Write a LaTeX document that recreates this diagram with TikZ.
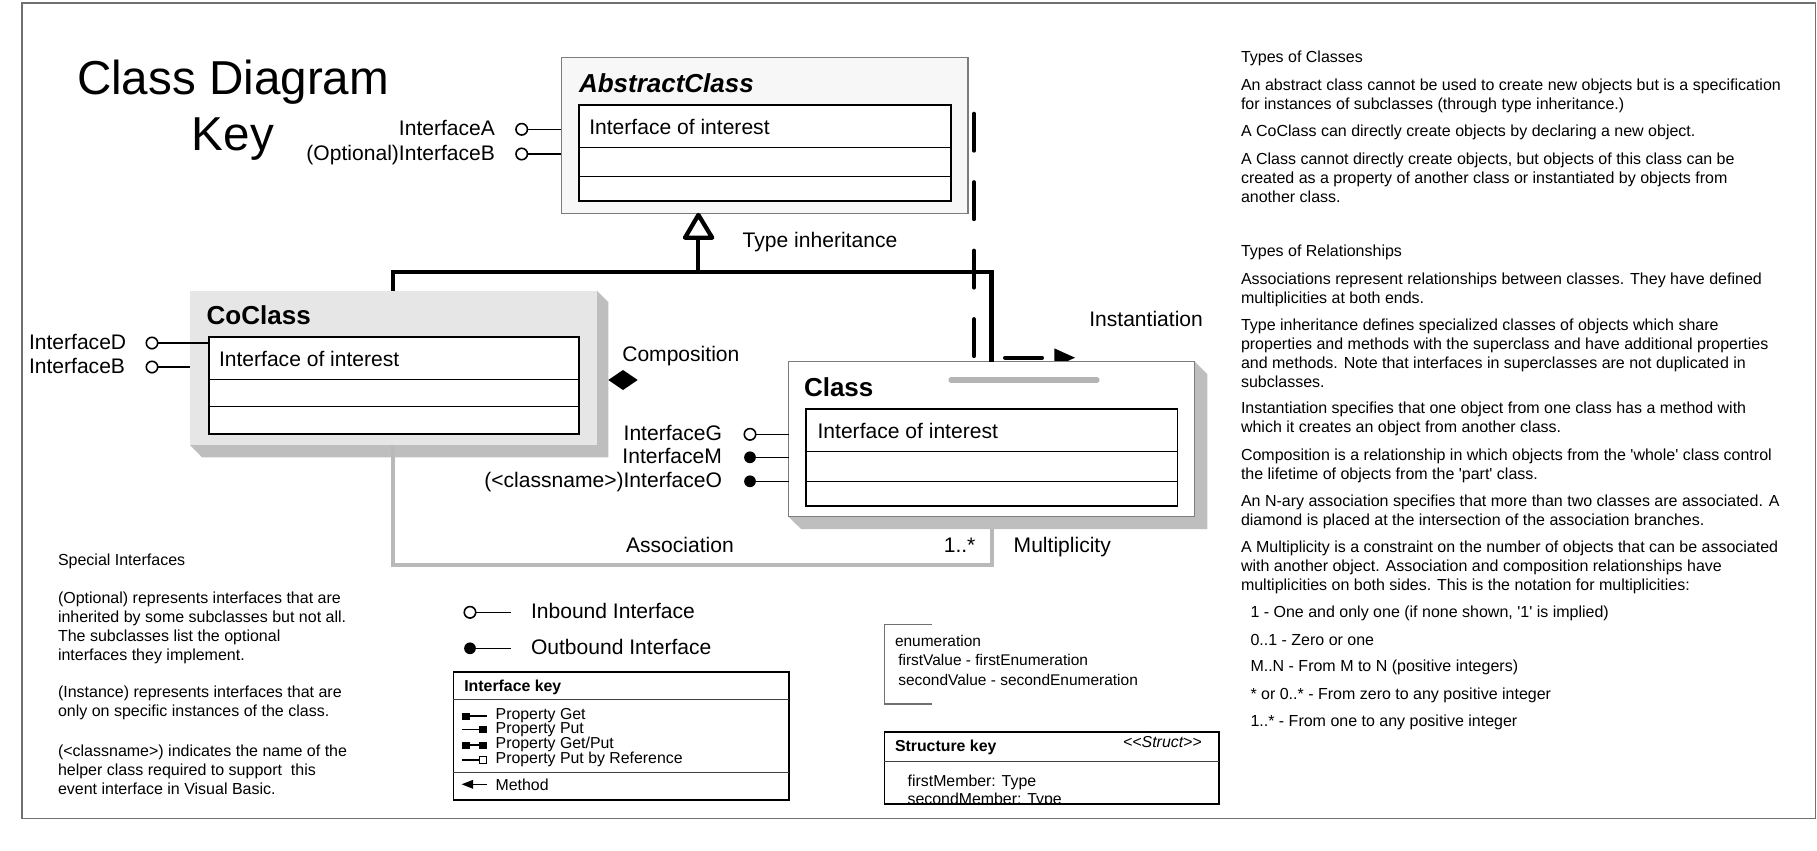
\documentclass[tikz,border=0pt]{standalone}
\usepackage{fontspec}
\setmainfont{Liberation Sans}
\usetikzlibrary{fit,arrows.meta}

\definecolor{framegray}{HTML}{707070}
\definecolor{absfill}{HTML}{F7F7F7}
\definecolor{cofill}{HTML}{E6E6E6}
\definecolor{shadegray}{HTML}{BEBEBE}
\definecolor{edgegray}{HTML}{7C7C7C}
\definecolor{assocgray}{HTML}{B9B9B9}
\definecolor{bargray}{HTML}{B4B4B4}

\newcommand{\sq}{\textquotesingle}
\newcommand{\lines}[1]{\begin{tabular}[t]{@{}l@{}}#1\end{tabular}}

\begin{document}
\begin{tikzpicture}[x=0.75pt, y=-0.75pt,
  every node/.style={inner sep=0pt, outer sep=0pt},
  note/.style={anchor=base west, font=\fontsize{12}{14.25}\selectfont},
  keytext/.style={anchor=base west, font=\fontsize{11.9}{13}\selectfont},
  enumtext/.style={anchor=base west, font=\fontsize{11.6}{13}\selectfont},
  lbl/.style={font=\fontsize{15.8}{18}\selectfont},
  ctitle/.style={anchor=base west, font=\bfseries\fontsize{19.5}{22}\selectfont},
  facebox/.style={draw=edgegray, line width=0.8pt},
  compbox/.style={draw=black, fill=white, line width=1.3pt},
  rowline/.style={line width=0.75pt},
  inport/.style={circle, draw=black, fill=white, line width=1.2pt, minimum size=8.6pt},
  outport/.style={circle, fill=black, minimum size=8.8pt},
  portline/.style={line width=1.1pt},
  heavy/.style={line width=3.2pt},
  instdash/.style={line width=3pt, line cap=round, dash pattern=on 27.75pt off 23.6pt},
  assocline/.style={draw=assocgray, line width=3pt},
  keybox/.style={draw=black, line width=1.2pt},
  keyrule/.style={draw=black!75, line width=0.75pt},
  keysym/.style={line width=1pt},
]
\useasboundingbox (0,0) rectangle (1817,850);
\fill[white] (0,0) rectangle (1817,850);

% outer frame
\draw[framegray, line width=0.9pt] (22,3) rectangle (1815.5,818.5);

% title
\node[anchor=base west, font=\fontsize{35.7}{40}\selectfont] (title1) at (77,94) {Class Diagram};
\node[anchor=base, font=\fontsize{35.7}{40}\selectfont] (title2) at (233,150) {Key};

% ---------- AbstractClass ----------
\node[facebox, fill=absfill, fit={(561.3,57.7) (968,213.3)}] (abs) {};
\node[ctitle, font=\bfseries\itshape\fontsize{19.5}{22}\selectfont] (absT) at (579,92.3) {AbstractClass};
\node[compbox, fit={(579,105) (950.7,201)}] (absi) {};
\draw[rowline] (579,147.3) -- (950.7,147.3);
\draw[rowline] (579,176.7) -- (950.7,176.7);
\node[lbl, anchor=base west] (absI) at (589.3,134.3) {Interface of interest};

\node[inport] (ifA) at (521.7,129.3) {};
\node[inport] (ifB) at (521.7,154) {};
\draw[portline] (ifA) -- (abs.west |- ifA);
\draw[portline] (ifB) -- (abs.west |- ifB);
\node[lbl, anchor=base east] (lA) at (495,135) {InterfaceA};
\node[lbl, anchor=base east] (lB) at (495,160) {(Optional)InterfaceB};

% ---------- CoClass ----------
\fill[shadegray] (596.7,290.7) -- (608.3,302.3) -- (608.3,457.3) -- (202,457.3) -- (190,445) -- (596.7,445) -- cycle;
\node[fill=cofill, fit={(190,290.7) (596.7,445)}] (coc) {};
\node[ctitle] (cocT) at (206.7,324) {CoClass};
\node[compbox, fit={(209,337.3) (579.3,434)}] (coci) {};
\draw[rowline] (209,379) -- (579.3,379);
\draw[rowline] (209,406) -- (579.3,406);
\node[lbl, anchor=base west] (cocI) at (219,366) {Interface of interest};

\node[inport] (ifD) at (152,343) {};
\node[inport] (ifB2) at (152,367) {};
\draw[portline] (ifD) -- (coci.west |- ifD);
\draw[portline] (ifB2) -- (coc.west |- ifB2);
\node[lbl, anchor=base west] (lD) at (29,349.5) {InterfaceD};
\node[lbl, anchor=base west] (lB2) at (29,373.5) {InterfaceB};

% composition diamond
\fill (608.3,380) -- (623,370) -- (637.7,380) -- (623,390) -- cycle;
\node[lbl, anchor=base west] (compL) at (622.3,361.7) {Composition};

% ---------- instantiation (drawn below the Class box) ----------
\coordinate (instTop) at (974,113.7);
\coordinate (instCorner) at (974,357.7);
\coordinate (instTip) at (1075,357.7);
\draw[instdash] (instTop) -- (instCorner);
% one dash after the corner, then the solid tip
\draw[line width=3pt, line cap=round, dash pattern=on 27.75pt off 200pt, dash phase=204.5pt,
      -{Triangle[length=15.5pt, width=14pt, line width=0pt]}] (instCorner) -- (instTip);
\node[lbl, anchor=base west] (instL) at (1089.3,326) {Instantiation};

% ---------- Class ----------
\fill[shadegray] (1194.7,361.7) -- (1207.3,374.3) -- (1207.3,529) -- (801.1,529) -- (788.5,516.7) -- (1194.7,516.7) -- cycle;
\node[facebox, fill=white, fit={(788.5,361.7) (1194.7,516.7)}] (cls) {};
\draw[bargray, line width=3.8pt, line cap=round] (951,380) -- (1097,380);
\node[ctitle] (clsT) at (804,396.7) {Class};
\node[compbox, fit={(806.2,409) (1177.4,505.7)}] (clsi) {};
\draw[rowline] (806.2,451.7) -- (1177.4,451.7);
\draw[rowline] (806.2,481.7) -- (1177.4,481.7);
\node[lbl, anchor=base west] (clsI) at (817.6,438.3) {Interface of interest};

\node[inport] (ifG) at (750,434.3) {};
\node[outport] (ifM) at (750,457.3) {};
\node[outport] (ifO) at (750,481.3) {};
\draw[portline] (ifG) -- (cls.west |- ifG);
\draw[portline] (ifM) -- (cls.west |- ifM);
\draw[portline] (ifO) -- (cls.west |- ifO);
\node[lbl, anchor=base east] (lG) at (722,440) {InterfaceG};
\node[lbl, anchor=base east] (lM) at (722,463.5) {InterfaceM};
\node[lbl, anchor=base east] (lO) at (722,487) {(<classname>)InterfaceO};

% ---------- type inheritance ----------
\coordinate (inhJoin) at (698.3,272.3);
\draw[heavy] (coc.north) |- (inhJoin) -| (cls.north);
\draw[heavy] (inhJoin) -- (698.3,238);
\filldraw[heavy, fill=white, line join=round] (685,237.7) -- (698.4,214.9) -- (712.2,237.7) -- cycle;
\node[lbl, anchor=base west] (inhL) at (742.7,247.3) {Type inheritance};

% ---------- association ----------
\coordinate (assocLow) at (991.6,565);
\coordinate (clsBase) at (991.6,529);
\draw[assocline] (coc.south) |- (assocLow) -- (clsBase);
\node[lbl, anchor=base west] (assocL) at (626,552.7) {Association};
\node[lbl, anchor=base west] (multN) at (943.8,552.7) {1..*};
\node[lbl, anchor=base west] (multL) at (1013.7,552.7) {Multiplicity};

% ---------- special interfaces notes ----------
\node[note] (si0) at (58,565) {Special Interfaces};
\node[note] (si1) at (58,603.3) {\lines{(Optional) represents interfaces that are\\inherited by some subclasses but not all.\\The subclasses list the optional\\interfaces they implement.}};
\node[note] (si2) at (58,697.7) {\lines{(Instance) represents interfaces that are\\only on specific instances of the class.}};
\node[note] (si3) at (58,756) {\lines{(<classname>) indicates the name of the\\helper class required to support\ \ this\\event interface in Visual Basic.}};

% ---------- inbound / outbound legend ----------
\node[inport] (inL) at (470,612.3) {};
\coordinate (inE) at (510.7,612.3);
\draw[portline] (inL) -- (inE);
\node[lbl, anchor=base west] (inT) at (531,618.3) {Inbound Interface};
\node[outport] (outL) at (470,648.3) {};
\coordinate (outE) at (510.7,648.3);
\draw[portline] (outL) -- (outE);
\node[lbl, anchor=base west] (outT) at (531,654.3) {Outbound Interface};

% ---------- interface key ----------
\node[keybox, fit={(453.3,671.7) (789,800)}] (ikey) {};
\draw[keyrule] (453.3,699.3) -- (789,699.3);
\draw[keyrule] (453.3,772.7) -- (789,772.7);
\node[keytext, font=\bfseries\fontsize{11.9}{13}\selectfont] (ikT) at (464.3,691.7) {Interface key};
\fill (461.7,712.5) rectangle (469.5,719.5);
\draw[keysym] (469.5,716) -- (486.7,716);
\draw[keysym] (461.7,729.3) -- (479,729.3);
\fill (479,725.8) rectangle (486.7,732.8);
\fill (461.7,741.5) rectangle (469.5,748.5);
\draw[keysym] (469.5,745) -- (479,745);
\fill (479,741.5) rectangle (486.7,748.5);
\draw[keysym] (461.7,760) -- (479.5,760);
\draw[keysym, fill=white] (479.5,756.6) rectangle (486.2,763.4);
\fill (461.7,784.3) -- (473,779.8) -- (473,788.8) -- cycle;
\draw[keysym] (473,784.3) -- (486.7,784.3);
\node[keytext] (ik1) at (495.7,719) {Property Get};
\node[keytext] (ik2) at (495.7,733.3) {Property Put};
\node[keytext] (ik3) at (495.7,748.3) {Property Get/Put};
\node[keytext] (ik4) at (495.7,763.3) {Property Put by Reference};
\node[keytext] (ik5) at (495.7,790.7) {Method};

% ---------- enumeration ----------
\draw[framegray, line width=0.9pt] (931.7,624.3) -- (884.3,624.3) -- (884.3,704) -- (931.7,704);
\node[enumtext] (en1) at (895,646.7) {enumeration};
\node[enumtext] (en2) at (898.3,665.7) {firstValue - firstEnumeration};
\node[enumtext] (en3) at (898.3,685) {secondValue - secondEnumeration};

% ---------- structure key ----------
\begin{scope}
  \clip (884.3,731.7) rectangle (1219,804);
  \node[keytext] (sk2) at (907.7,786.7) {firstMember: Type};
  \node[keytext] (sk3) at (907.7,804.3) {secondMember: Type};
\end{scope}
\node[keybox, fit={(884.3,731.7) (1219,804)}] (skey) {};
\draw[keyrule] (884.3,761.7) -- (1219,761.7);
\node[keytext, font=\bfseries\fontsize{11.9}{13}\selectfont] (skT) at (895,751.7) {Structure key};
\node[keytext, anchor=base east, font=\itshape\fontsize{11.9}{13}\selectfont] (skS) at (1201.7,747.7) {<\kern0pt<Struct>\kern0pt>};

% ---------- right-hand notes ----------
\node[note] (tc1) at (1241,62.7) {Types of Classes};
\node[note] (tc2) at (1241,90) {\lines{An abstract class cannot be used to create new objects but is a specification\\for instances of subclasses (through type inheritance.)}};
\node[note] (tc3) at (1241,136.7) {A CoClass can directly create objects by declaring a new object.};
\node[note] (tc4) at (1241,164) {\lines{A Class cannot directly create objects, but objects of this class can be\\created as a property of another class or instantiated by objects from\\another class.}};
\node[note] (tr1) at (1241,256.7) {Types of Relationships};
\node[note] (tr2) at (1241,284.3) {\lines{Associations represent relationships between classes. They have defined\\multiplicities at both ends.}};
\node[note] (tr3) at (1241,330) {\lines{Type inheritance defines specialized classes of objects which share\\properties and methods with the superclass and have additional properties\\and methods. Note that interfaces in superclasses are not duplicated in\\subclasses.}};
\node[note] (tr4) at (1241,413.3) {\lines{Instantiation specifies that one object from one class has a method with\\which it creates an object from another class.}};
\node[note] (tr5) at (1241,460) {\lines{Composition is a relationship in which objects from the \sq whole\sq\ class control\\the lifetime of objects from the \sq part\sq\ class.}};
\node[note] (tr6) at (1241,506.7) {\lines{An N-ary association specifies that more than two classes are associated. A\\diamond is placed at the intersection of the association branches.}};
\node[note] (tr7) at (1241,552.7) {\lines{A Multiplicity is a constraint on the number of objects that can be associated\\with another object. Association and composition relationships have\\multiplicities on both sides. This is the notation for multiplicities:}};
\node[note] (mu1) at (1250.5,617.3) {1 - One and only one (if none shown, \sq 1\sq\ is implied)};
\node[note] (mu2) at (1250.5,645) {0..1 - Zero or one};
\node[note] (mu3) at (1250.5,671.7) {M..N - From M to N (positive integers)};
\node[note] (mu4) at (1250.5,699.3) {* or 0..* - From zero to any positive integer};
\node[note] (mu5) at (1250.5,726.7) {1..* - From one to any positive integer};

\end{tikzpicture}
\end{document}
